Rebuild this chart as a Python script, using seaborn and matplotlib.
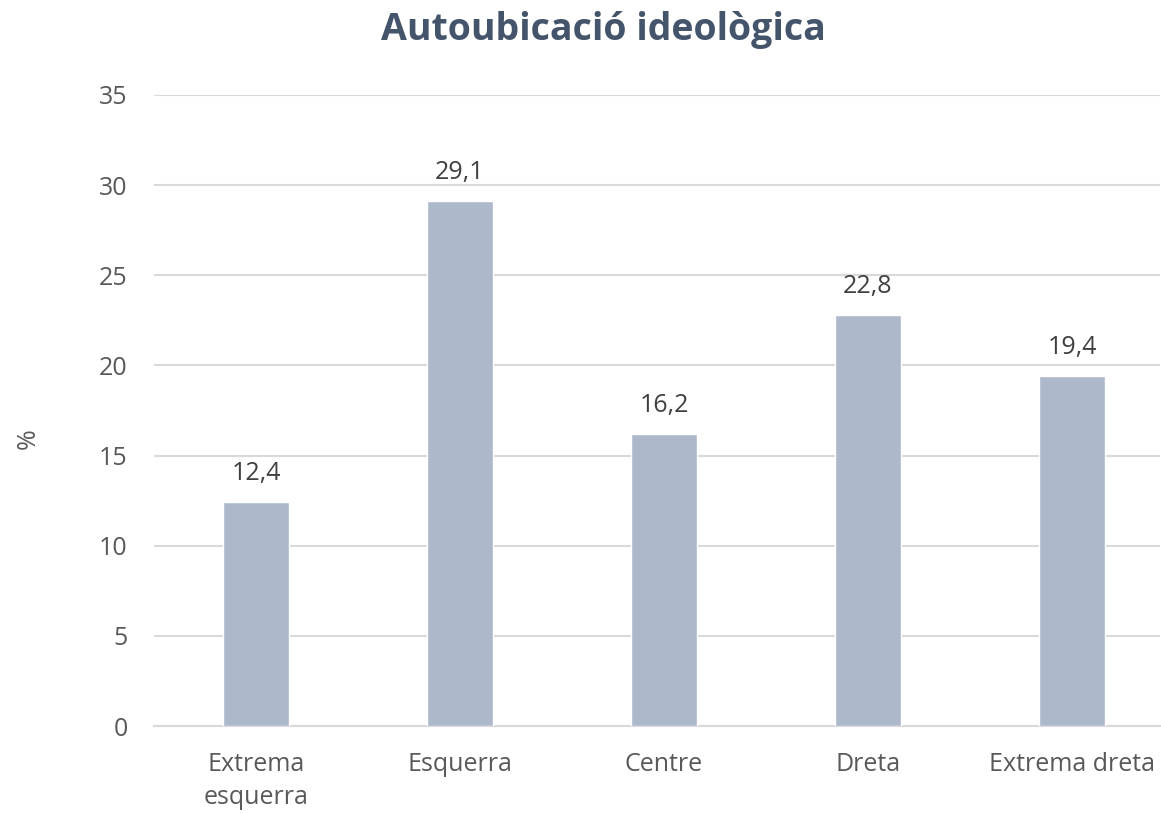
import matplotlib
matplotlib.use("Agg")
import matplotlib.pyplot as plt
import seaborn as sns
import pandas as pd

# data
categories = ["Extrema\nesquerra", "Esquerra", "Centre", "Dreta", "Extrema dreta"]
values = [12.4, 29.1, 16.2, 22.8, 19.4]
value_labels = ["12,4", "29,1", "16,2", "22,8", "19,4"]
y_ticks = [0, 5, 10, 15, 20, 25, 30, 35]

sns.set_style("white")
plt.rcParams['font.family'] = ['Open Sans', 'DejaVu Sans']

df = pd.DataFrame({"cat": categories, "val": values})

fig = plt.figure(figsize=(11.61, 8.13), dpi=100)
ax = fig.add_axes([154 / 1161, 1 - 726 / 813, (1160 - 154) / 1161, (726 - 95) / 813])

text_col = "#595959"
sns.barplot(data=df, x="cat", y="val", color="#ADB9CA", width=0.32,
            saturation=1, ax=ax, zorder=3)

for i, (v, lab) in enumerate(zip(values, value_labels)):
    ax.text(i, v + 0.9, lab, ha="center", va="bottom", fontsize=18, color="#404040")

ax.set_ylim(0, 35)
ax.set_xlim(-0.5, -0.5 + 1006 / 204)
ax.set_yticks(y_ticks)
ax.yaxis.grid(True, color="#D9D9D9", linewidth=1.5, zorder=0)
ax.set_axisbelow(True)
for s in ["top", "right", "left"]:
    ax.spines[s].set_visible(False)
ax.spines["bottom"].set_color("#D9D9D9")
ax.spines["bottom"].set_linewidth(1.5)
ax.tick_params(axis="both", length=0, labelsize=18, labelcolor=text_col)
ax.tick_params(axis="x", pad=19)
ax.tick_params(axis="y", pad=19)
for t in ax.get_xticklabels():
    t.set_linespacing(1.4)
ax.set_xlabel("")
ax.set_ylabel("%", fontsize=18, color=text_col)
ax.yaxis.set_label_coords(-0.113, 0.456)

fig.text(603 / 1161, 1 - 30 / 813, "Autoubicació ideològica", ha="center", va="center",
         fontsize=27, fontweight="bold", color="#44546A")

fig.savefig("out.png", dpi=100)
